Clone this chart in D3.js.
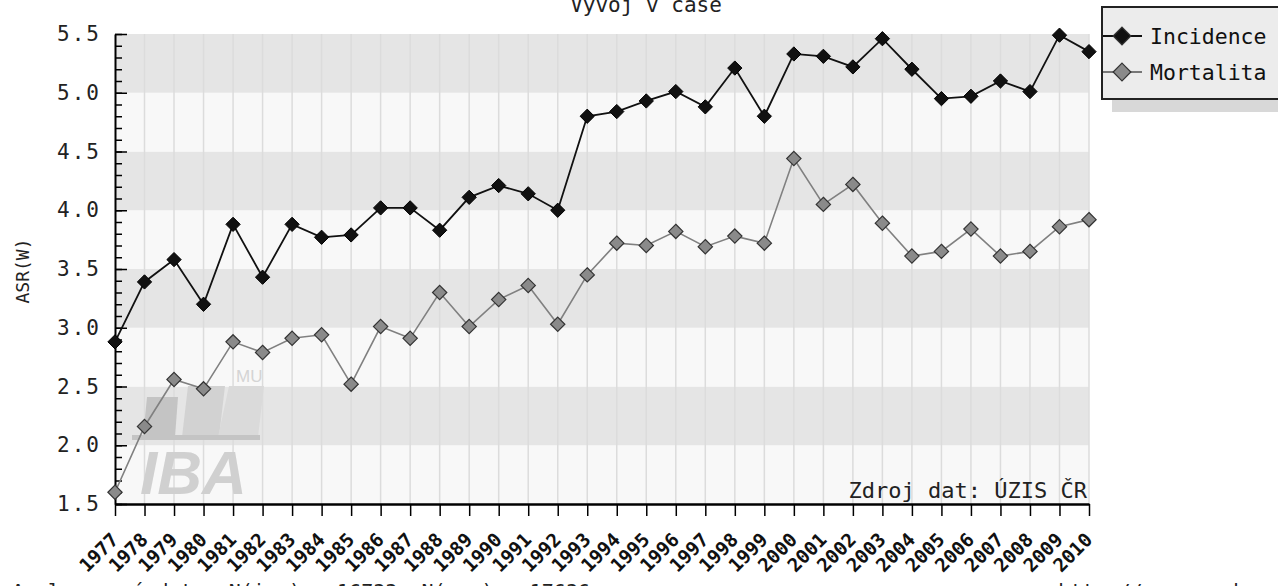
<!DOCTYPE html>
<html>
<head>
<meta charset="utf-8">
<script src="https://cdn.jsdelivr.net/npm/d3@7"></script>
<style>
  body { margin: 0; background: #fff; }
  svg { display: block; font-family: "DejaVu Sans Mono", monospace; }
</style>
</head>
<body>
<svg id="chart" width="1278" height="586"></svg>
<script>
// data
const years = d3.range(1977, 2011);
const incidence = [2.88, 3.39, 3.58, 3.20, 3.88, 3.43, 3.88, 3.77, 3.79, 4.02,
  4.02, 3.83, 4.11, 4.21, 4.14, 4.00, 4.80, 4.84, 4.93, 5.01,
  4.88, 5.21, 4.80, 5.33, 5.31, 5.22, 5.46, 5.20, 4.95, 4.97,
  5.10, 5.01, 5.49, 5.35];
const mortalita = [1.60, 2.16, 2.56, 2.48, 2.88, 2.79, 2.91, 2.94, 2.52, 3.01,
  2.91, 3.30, 3.01, 3.24, 3.36, 3.03, 3.45, 3.72, 3.70, 3.82,
  3.69, 3.78, 3.72, 4.44, 4.05, 4.22, 3.89, 3.61, 3.65, 3.84,
  3.61, 3.65, 3.86, 3.92];
const yMajor = [1.5, 2.0, 2.5, 3.0, 3.5, 4.0, 4.5, 5.0, 5.5];
const seriesNames = ["Incidence", "Mortalita"];

const svg = d3.select("#chart");
const x = d3.scaleLinear().domain([1977, 2010]).range([115, 1089]);
const y = d3.scaleLinear().domain([1.5, 5.5]).range([504, 34]);

// background bands
const bands = yMajor.slice(0, -1);
svg.append("g").selectAll("rect")
  .data(bands)
  .join("rect")
  .attr("x", x(1977))
  .attr("width", x(2010) - x(1977))
  .attr("y", d => y(d + 0.5))
  .attr("height", d => y(d) - y(d + 0.5))
  .attr("fill", (d, i) => i % 2 ? "#e5e5e5" : "#f8f8f8");

// vertical grid
svg.append("g").selectAll("line")
  .data(years.slice(1))
  .join("line")
  .attr("x1", d => x(d)).attr("x2", d => x(d))
  .attr("y1", y(5.5)).attr("y2", y(1.5))
  .attr("stroke", "#dcdcdc")
  .attr("stroke-width", 1.5);

// watermark
const wm = svg.append("g").attr("fill", "#c9c9c9");
wm.append("path").attr("d", "M147,397 L178,397 L175,437 L143,437 Z").attr("fill", "#c4c4c4");
wm.append("path").attr("d", "M188,386 L225,386 L219,437 L182,437 Z").attr("fill", "#d2d2d2");
wm.append("path").attr("d", "M229,386 L264,386 L258,437 L218,437 Z").attr("fill", "#dadada");
wm.append("rect").attr("x", 132).attr("y", 435).attr("width", 128).attr("height", 5).attr("fill", "#c4c4c4");
wm.append("text").attr("x", 236).attr("y", 382)
  .style("font-family", "Liberation Sans, Arial, sans-serif")
  .style("font-size", "17px").attr("fill", "#d4d4d4").text("MU");
wm.append("text").attr("x", 140).attr("y", 494)
  .style("font-family", "Liberation Sans, Arial, sans-serif")
  .style("font-size", "62px").style("font-weight", "bold").style("font-style", "italic")
  .attr("fill", "#d0d0d0").text("IBA");

// axes
const yMinor = svg.append("g")
  .attr("transform", `translate(${x(1977)},0)`)
  .call(d3.axisLeft(y).tickValues(d3.range(15, 56).map(d => d / 10)).tickSize(-7).tickFormat(""));
yMinor.select(".domain").remove();
yMinor.selectAll("line").attr("stroke", "#000").attr("stroke-width", 1.5);

const yAxis = svg.append("g")
  .attr("transform", `translate(${x(1977)},0)`)
  .call(d3.axisLeft(y).tickValues(yMajor).tickSize(-12).tickSizeOuter(0).tickPadding(14).tickFormat(d3.format(".1f")));
yAxis.selectAll("line").attr("stroke", "#000").attr("stroke-width", 1.5);
yAxis.select(".domain").attr("stroke", "#000").attr("stroke-width", 2);
yAxis.selectAll("text").style("font-size", "21px").style("letter-spacing", "2px")
  .style("font-family", "DejaVu Sans Mono, monospace").attr("fill", "#222");

const xAxis = svg.append("g")
  .attr("transform", `translate(0,${y(1.5)})`)
  .call(d3.axisBottom(x).tickValues(years).tickSize(12).tickSizeOuter(0).tickFormat(d3.format("d")));
xAxis.selectAll("line").attr("stroke", "#000").attr("stroke-width", 1.5);
xAxis.select(".domain").attr("stroke", "#000").attr("stroke-width", 2.5);
xAxis.selectAll("text")
  .style("font-size", "19px").style("font-family", "DejaVu Sans Mono, monospace").attr("fill", "#111")
  .style("font-weight", "bold")
  .attr("text-anchor", "end")
  .attr("y", 0).attr("dy", 0)
  .attr("transform", "translate(4,37) rotate(-45)");

// lines
const line = d3.line().x((d, i) => x(years[i])).y(d => y(d));
const diamond = d3.symbol().type(d3.symbolDiamond2).size(130);

svg.append("path").datum(mortalita)
  .attr("d", line).attr("fill", "none").attr("stroke", "#808080").attr("stroke-width", 1.6);
svg.append("g").selectAll("path")
  .data(mortalita).join("path")
  .attr("d", diamond)
  .attr("transform", (d, i) => `translate(${x(years[i])},${y(d)})`)
  .attr("fill", "#8a8a8a").attr("stroke", "#333").attr("stroke-width", 1.2);

svg.append("path").datum(incidence)
  .attr("d", line).attr("fill", "none").attr("stroke", "#111").attr("stroke-width", 1.8);
svg.append("g").selectAll("path")
  .data(incidence).join("path")
  .attr("d", diamond)
  .attr("transform", (d, i) => `translate(${x(years[i])},${y(d)})`)
  .attr("fill", "#111").attr("stroke", "#000").attr("stroke-width", 1);

// source note
svg.append("text").attr("x", 1087).attr("y", 498).attr("text-anchor", "end")
  .style("font-size", "22px").attr("fill", "#222").text("Zdroj dat: ÚZIS ČR");

// title and y label
svg.append("text").attr("x", 646).attr("y", 12).attr("text-anchor", "middle")
  .style("font-size", "21px").attr("fill", "#222").text("Vývoj v čase");
svg.append("text").attr("transform", "translate(29,271) rotate(-90)").attr("text-anchor", "middle")
  .style("font-size", "18px").attr("fill", "#222").text("ASR(W)");

// legend
const lg = svg.append("g");
lg.append("rect").attr("x", 1112).attr("y", 18).attr("width", 200).attr("height", 94).attr("fill", "#d8d8d8");
lg.append("rect").attr("x", 1102).attr("y", 7).attr("width", 200).attr("height", 92)
  .attr("fill", "#ececec").attr("stroke", "#222").attr("stroke-width", 2);
const fills = ["#111", "#8a8a8a"], strokes = ["#111", "#777"];
seriesNames.forEach((name, i) => {
  const cy = 36 + i * 36;
  lg.append("line").attr("x1", 1103).attr("x2", 1142).attr("y1", cy).attr("y2", cy)
    .attr("stroke", strokes[i]).attr("stroke-width", 1.8);
  lg.append("path").attr("d", d3.symbol().type(d3.symbolDiamond2).size(200))
    .attr("transform", `translate(1122,${cy})`)
    .attr("fill", fills[i]).attr("stroke", "#333").attr("stroke-width", 1.2);
  lg.append("text").attr("x", 1150).attr("y", cy + 8)
    .style("font-size", "21.5px").attr("fill", "#111").text(name);
});

// bottom note, mostly outside the picture
svg.append("text").attr("x", 12).attr("y", 598)
  .style("font-size", "20px").attr("fill", "#222")
  .text("Analyzovaná data: N(inc) = 16733, N(mor) = 17636");
svg.append("text").attr("x", 1275).attr("y", 598).attr("text-anchor", "end")
  .style("font-size", "20px").attr("fill", "#222")
  .text("http://www.svod.cz");
</script>
</body>
</html>
